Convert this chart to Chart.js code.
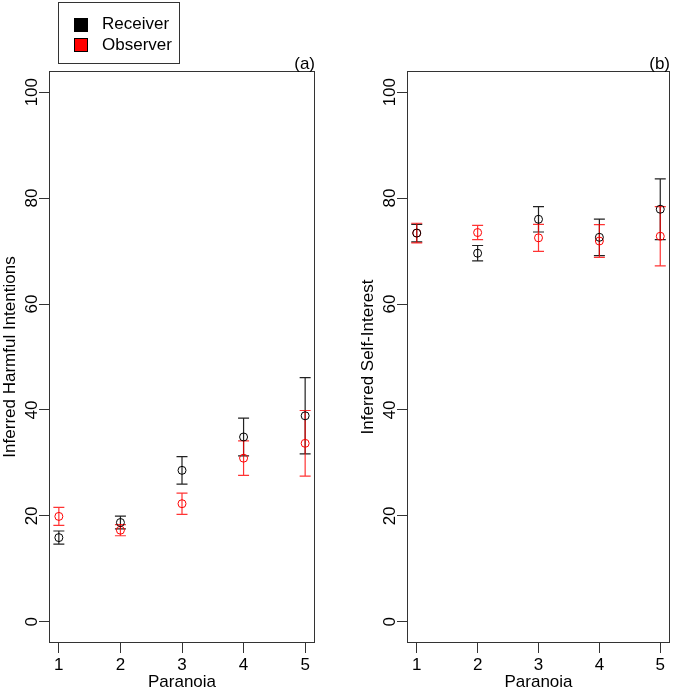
<!DOCTYPE html>
<html>
<head>
<meta charset="utf-8">
<script src="https://cdn.jsdelivr.net/npm/chart.js@4"></script>
<style>
  body { margin: 0; background: #fff; font-family: "Liberation Sans", Arial, sans-serif; }
  #wrap { position: relative; width: 675px; height: 693px; }
  canvas { position: absolute; top: 0; }
  #legend { position: absolute; left: 58px; top: 2px; width: 120px; height: 60px; border: 1px solid #333; }
  .key { position: absolute; left: 15px; width: 12px; height: 12px; border: 1px solid #000; }
  .lab { position: absolute; left: 43px; font-size: 17px; line-height: 17px; color: #000; }
</style>
</head>
<body>
<div id="wrap">
  <canvas id="chart-a" width="340" height="693" style="left:0"></canvas>
  <canvas id="chart-b" width="317" height="693" style="left:358px"></canvas>
  <div id="legend">
    <div class="key" style="top:15px;background:#000"></div><div class="lab" style="top:12px">Receiver</div>
    <div class="key" style="top:35px;background:#f00"></div><div class="lab" style="top:33px">Observer</div>
  </div>
</div>
<script>
const paranoia = [1, 2, 3, 4, 5];
const yTicks = [0, 20, 40, 60, 80, 100];

// panel (a) - harmful intentions, mean and +/- error
const receiverHarm = [15.9, 18.75, 28.6, 34.9, 38.9];
const receiverHarmErr = [1.25, 1.2, 2.6, 3.55, 7.2];
const observerHarm = [19.9, 17.3, 22.3, 30.9, 33.7];
const observerHarmErr = [1.7, 1.05, 2.0, 3.25, 6.2];

// panel (b) - self-interest
const receiverSelf = [73.4, 69.6, 76.0, 72.6, 77.9];
const receiverSelfErr = [1.65, 1.45, 2.4, 3.45, 5.75];
const observerSelf = [73.4, 73.5, 72.5, 71.9, 72.8];
const observerSelfErr = [1.85, 1.35, 2.55, 3.1, 5.6];

const FONT = '"Liberation Sans", Arial, sans-serif';

// error bars + box + rotated y labels + panel tag
const extrasPlugin = {
  id: "extras",
  beforeDatasetsDraw(chart) {
    const ctx = chart.ctx;
    const xs = chart.scales.x, ys = chart.scales.y;
    chart.data.datasets.forEach((ds) => {
      ctx.save();
      ctx.strokeStyle = ds.barColor;
      ctx.lineWidth = 1.2;
      ds.data.forEach((p, i) => {
        const px = xs.getPixelForValue(p.x);
        const top = ys.getPixelForValue(p.y + ds.err[i]);
        const bot = ys.getPixelForValue(p.y - ds.err[i]);
        ctx.beginPath();
        ctx.moveTo(px, top); ctx.lineTo(px, bot);
        ctx.moveTo(px - 5.5, top); ctx.lineTo(px + 5.5, top);
        ctx.moveTo(px - 5.5, bot); ctx.lineTo(px + 5.5, bot);
        ctx.stroke();
      });
      ctx.restore();
    });
  },
  afterDraw(chart) {
    const ctx = chart.ctx;
    const a = chart.chartArea;
    const ys = chart.scales.y;
    ctx.save();
    ctx.strokeStyle = "#333";
    ctx.lineWidth = 1;
    ctx.strokeRect(a.left + 0.5, a.top + 0.5, a.right - a.left - 1, a.bottom - a.top - 1);
    ctx.fillStyle = "#000";
    ctx.font = "17px " + FONT;
    ctx.textAlign = "center";
    ctx.textBaseline = "alphabetic";
    ys.ticks.forEach((t) => {
      ctx.save();
      ctx.translate(a.left - 12.5, ys.getPixelForValue(t.value));
      ctx.rotate(-Math.PI / 2);
      ctx.fillText(String(t.value), 0, 0);
      ctx.restore();
    });
    ctx.textAlign = "right";
    ctx.fillText(chart.options.plugins.tag, a.right, a.top - 2);
    ctx.restore();
  }
};

function createPanel(canvasId, yTitle, tag, recv, recvErr, obs, obsErr, padRight) {
  const ctx = document.getElementById(canvasId).getContext("2d");
  return new Chart(ctx, {
    type: "scatter",
    data: {
      datasets: [
        {
          label: "Receiver",
          data: paranoia.map((x, i) => ({ x: x, y: recv[i] })),
          err: recvErr,
          barColor: "#222",
          borderColor: "#000",
          backgroundColor: "rgba(0,0,0,0)",
          pointRadius: 4,
          borderWidth: 1,
        },
        {
          label: "Observer",
          data: paranoia.map((x, i) => ({ x: x, y: obs[i] })),
          err: obsErr,
          barColor: "rgba(255,0,0,0.8)",
          borderColor: "#f00",
          backgroundColor: "rgba(0,0,0,0)",
          pointRadius: 4,
          borderWidth: 1,
        },
      ],
    },
    options: {
      responsive: false,
      animation: false,
      devicePixelRatio: 1,
      layout: { padding: { top: 71, right: padRight, left: 0, bottom: 0 } },
      plugins: { legend: { display: false }, tooltip: { enabled: false }, tag: tag },
      scales: {
        x: {
          type: "linear",
          min: 0.84,
          max: 5.16,
          afterBuildTicks: (s) => { s.ticks = paranoia.map((v) => ({ value: v })); },
          afterFit: (s) => { s.height = 50; },
          border: { display: false },
          grid: { drawOnChartArea: false, color: "#333", tickLength: 10, tickWidth: 1 },
          ticks: { color: "#000", padding: 2, font: { size: 17, family: FONT } },
          title: { display: true, text: "Paranoia", color: "#000", padding: 0, font: { size: 17, family: FONT } },
        },
        y: {
          type: "linear",
          min: -4,
          max: 104,
          afterBuildTicks: (s) => { s.ticks = yTicks.map((v) => ({ value: v })); },
          afterFit: (s) => { s.width = 49; },
          border: { display: false },
          grid: { drawOnChartArea: false, color: "#333", tickLength: 10, tickWidth: 1 },
          ticks: { display: false },
          title: { display: true, text: yTitle, color: "#000", padding: 0, font: { size: 17, family: FONT } },
        },
      },
    },
    plugins: [extrasPlugin],
  });
}

createPanel("chart-a", "Inferred Harmful Intentions", "(a)", receiverHarm, receiverHarmErr, observerHarm, observerHarmErr, 25);
createPanel("chart-b", "Inferred Self-Interest", "(b)", receiverSelf, receiverSelfErr, observerSelf, observerSelfErr, 2.3);
</script>
</body>
</html>
